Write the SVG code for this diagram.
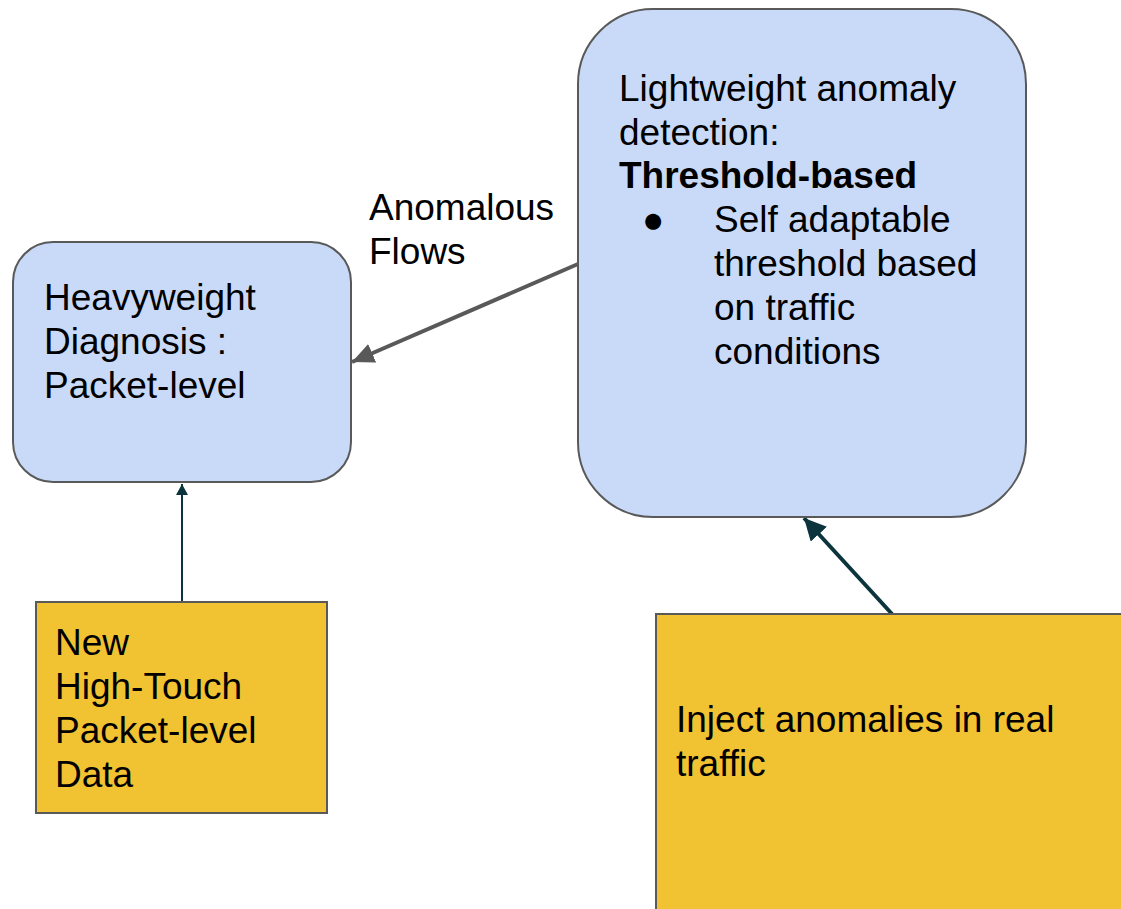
<svg xmlns="http://www.w3.org/2000/svg" width="1121" height="909" viewBox="0 0 1121 909">
<style>
.t{font-family:"Liberation Sans",Arial,sans-serif;font-size:37px;fill:#000}
.b{font-weight:bold}
.blue{fill:#c9daf8;stroke:#595959;stroke-width:2}
.yel{fill:#f1c232;stroke:#595959;stroke-width:2}
</style>
<defs>
<marker id="ag" markerUnits="userSpaceOnUse" markerWidth="24" markerHeight="20" refX="22" refY="10" orient="auto"><path d="M0,0 L22,10 L0,20 z" fill="#595959"/></marker>
<marker id="ad" markerUnits="userSpaceOnUse" markerWidth="12" markerHeight="12" refX="11" refY="6" orient="auto"><path d="M0,0 L11,6 L0,12 z" fill="#0c343d"/></marker>
<marker id="ad2" markerUnits="userSpaceOnUse" markerWidth="24" markerHeight="22" refX="22" refY="11" orient="auto"><path d="M0,0 L22,11 L0,22 z" fill="#0c343d"/></marker>
</defs>
<rect width="1121" height="909" fill="#fff"/>
<g id="connectors">
<line x1="578" y1="264" x2="352" y2="362" stroke="#595959" stroke-width="4" marker-end="url(#ag)"/>
<line x1="182" y1="602" x2="182" y2="484" stroke="#0c343d" stroke-width="2" marker-end="url(#ad)"/>
<line x1="892" y1="614" x2="804" y2="518" stroke="#0c343d" stroke-width="4" marker-end="url(#ad2)"/>
</g>
<g id="heavy">
<rect class="blue" x="13" y="242" width="338" height="240" rx="40" ry="40"/>
<text class="t" x="44" y="310">Heavyweight</text>
<text class="t" x="44" y="354">Diagnosis :</text>
<text class="t" x="44" y="398">Packet-level</text>
</g>
<g id="light">
<rect class="blue" x="578" y="9" width="448" height="508" rx="75" ry="75"/>
<text class="t" x="619" y="101">Lightweight anomaly</text>
<text class="t" x="619" y="145">detection:</text>
<text class="t b" x="619" y="188">Threshold-based</text>
<text class="t" x="642" y="232">●</text>
<text class="t" x="714" y="232">Self adaptable</text>
<text class="t" x="714" y="276">threshold based</text>
<text class="t" x="714" y="320">on traffic</text>
<text class="t" x="714" y="364">conditions</text>
</g>
<g id="label">
<text class="t" x="369" y="220">Anomalous</text>
<text class="t" x="369" y="264">Flows</text>
</g>
<g id="newdata">
<rect class="yel" x="36" y="602" width="291" height="211"/>
<text class="t" x="55" y="655">New</text>
<text class="t" x="55" y="699">High-Touch</text>
<text class="t" x="55" y="743">Packet-level</text>
<text class="t" x="55" y="787">Data</text>
</g>
<g id="inject">
<rect class="yel" x="656" y="614" width="470" height="300"/>
<text class="t" x="676" y="732">Inject anomalies in real</text>
<text class="t" x="676" y="776">traffic</text>
</g>
</svg>
